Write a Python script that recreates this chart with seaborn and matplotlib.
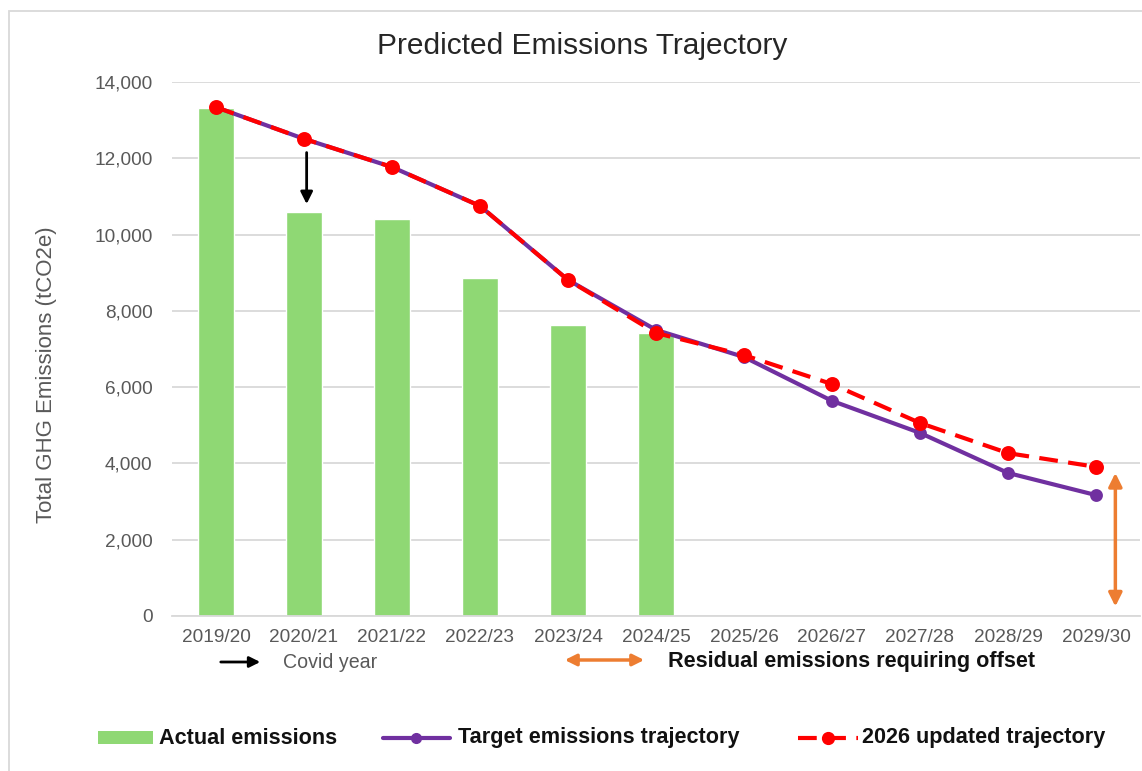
import matplotlib
matplotlib.use("Agg")
import matplotlib.pyplot as plt
from matplotlib.lines import Line2D
from matplotlib.patches import Rectangle, FancyArrowPatch
import numpy as np
import pandas as pd
import seaborn as sns

# ---------------- data ----------------
years = ["2019/20", "2020/21", "2021/22", "2022/23", "2023/24", "2024/25",
         "2025/26", "2026/27", "2027/28", "2028/29", "2029/30"]
actual = [13330, 10600, 10410, 8860, 7630, 7420,
          np.nan, np.nan, np.nan, np.nan, np.nan]
target = [13340, 12510, 11770, 10750, 8810, 7500,
          6790, 5640, 4800, 3750, 3170]
updated = [13340, 12510, 11770, 10750, 8810, 7420,
           6840, 6080, 5060, 4270, 3910]
yticks = [0, 2000, 4000, 6000, 8000, 10000, 12000, 14000]
covid_from, covid_to = 12150, 10800
residual_low, residual_high = 250, 3750

title = "Predicted Emissions Trajectory"
ylabel = "Total GHG Emissions (tCO2e)"

# ---------------- style ----------------
sns.set_theme(style="white")
plt.rcParams["font.family"] = ["Liberation Sans", "DejaVu Sans"]

GREEN = "#8FD874"
PURPLE = "#7030A0"
RED = "#FF0000"
ORANGE = "#ED7D31"
GRID = "#D9D9D9"
TXT = "#595959"
DARK = "#111111"

W, H = 1142, 771
fig = plt.figure(figsize=(W / 100, H / 100), dpi=100)
fig.patch.set_facecolor("white")

def fx(px):
    return px / W

def fy(py):
    return 1 - py / H

ax = fig.add_axes([fx(172), fy(616), fx(1140) - fx(172), fy(82) - fy(616)])

df = pd.DataFrame({"year": years, "actual": actual,
                   "target": target, "updated": updated})

sns.barplot(data=df, x="year", y="actual", order=years, color=GREEN,
            saturation=1, width=0.42, ax=ax, zorder=2)
sns.pointplot(data=df, x="year", y="target", order=years, color=PURPLE,
              errorbar=None, markers="o", markersize=7, linewidth=3,
              ax=ax, zorder=3)
n_before = len(ax.lines)
sns.pointplot(data=df, x="year", y="updated", order=years, color=RED,
              errorbar=None, markers="o", markersize=8.5, linewidth=3,
              linestyles="--", ax=ax, zorder=4)
for ln in ax.lines[n_before:]:
    ln.set_dashes((4.5, 2.5))

ax.set_xlim(-0.5, 10.5)
ax.set_ylim(0, 14000)
ax.set_yticks(yticks)
ax.set_yticklabels([f"{v:,}" for v in yticks])
ax.yaxis.grid(True, color=GRID, linewidth=1.3)
ax.set_axisbelow(True)
for s in ["top", "right", "left"]:
    ax.spines[s].set_visible(False)
ax.spines["bottom"].set_color(GRID)
ax.spines["bottom"].set_linewidth(1.3)
ax.tick_params(axis="both", length=0, colors=TXT, labelsize=13.7)
ax.tick_params(axis="y", pad=14)
ax.tick_params(axis="x", pad=9)
ax.set_xlabel("")
ax.set_ylabel(ylabel, fontsize=16, color=TXT)
ax.yaxis.set_label_coords(-0.119, 0.452)

# covid arrow
ax.annotate("", xy=(1.03, covid_to), xytext=(1.03, covid_from),
            arrowprops=dict(arrowstyle="-|>", color="black", lw=2,
                            mutation_scale=18, shrinkA=0, shrinkB=0),
            zorder=5)
# residual arrow
ax.annotate("", xy=(10.22, residual_low), xytext=(10.22, residual_high),
            arrowprops=dict(arrowstyle="<|-|>", color=ORANGE, lw=2.5,
                            mutation_scale=20, shrinkA=0, shrinkB=0),
            zorder=5, annotation_clip=False)

# title
fig.text(fx(582), fy(46), title, ha="center", va="center",
         fontsize=21.5, color="#262626")

# outer border
fig.add_artist(Rectangle((fx(9), -0.05), 1.2, fy(11) + 0.05,
                         transform=fig.transFigure, fill=False,
                         edgecolor=GRID, linewidth=1.3))

# legend row 1
fig.add_artist(FancyArrowPatch(
    (fx(218), fy(662)), (fx(263), fy(662)), transform=fig.transFigure,
    arrowstyle="-|>", color="black", lw=2, mutation_scale=16))
fig.text(fx(283), fy(663), "Covid year", ha="left", va="center",
         fontsize=14.1, color=TXT)
fig.add_artist(FancyArrowPatch(
    (fx(562), fy(660)), (fx(647), fy(660)), transform=fig.transFigure,
    arrowstyle="<|-|>", color=ORANGE, lw=2.5, mutation_scale=17))
fig.text(fx(668), fy(662), "Residual emissions requiring offset", ha="left",
         va="center", fontsize=15.6, fontweight="bold", color=DARK)

# legend row 2
fig.add_artist(Rectangle((fx(98), fy(744)), fx(153) - fx(98), fy(731) - fy(744),
                         transform=fig.transFigure, facecolor=GREEN,
                         edgecolor="none"))
fig.text(fx(159), fy(738), "Actual emissions", ha="left", va="center",
         fontsize=15.6, fontweight="bold", color=DARK)
fig.add_artist(Line2D([fx(383), fx(450)], [fy(738), fy(738)],
                      transform=fig.transFigure, color=PURPLE, lw=3))
fig.add_artist(Line2D([fx(416)], [fy(738)], transform=fig.transFigure,
                      color=PURPLE, marker="o", markersize=7))
fig.text(fx(458), fy(738), "Target emissions trajectory", ha="left",
         va="center", fontsize=15.6, fontweight="bold", color=DARK)
fig.add_artist(Line2D([fx(798), fx(858)], [fy(738), fy(738)],
                      transform=fig.transFigure, color=RED, lw=3,
                      dashes=(4.5, 2.5)))
fig.add_artist(Line2D([fx(828)], [fy(738)], transform=fig.transFigure,
                      color=RED, marker="o", markersize=8.5))
fig.text(fx(862), fy(738), "2026 updated trajectory", ha="left",
         va="center", fontsize=15.6, fontweight="bold", color=DARK)

fig.savefig("out.png", dpi=100, facecolor="white")
